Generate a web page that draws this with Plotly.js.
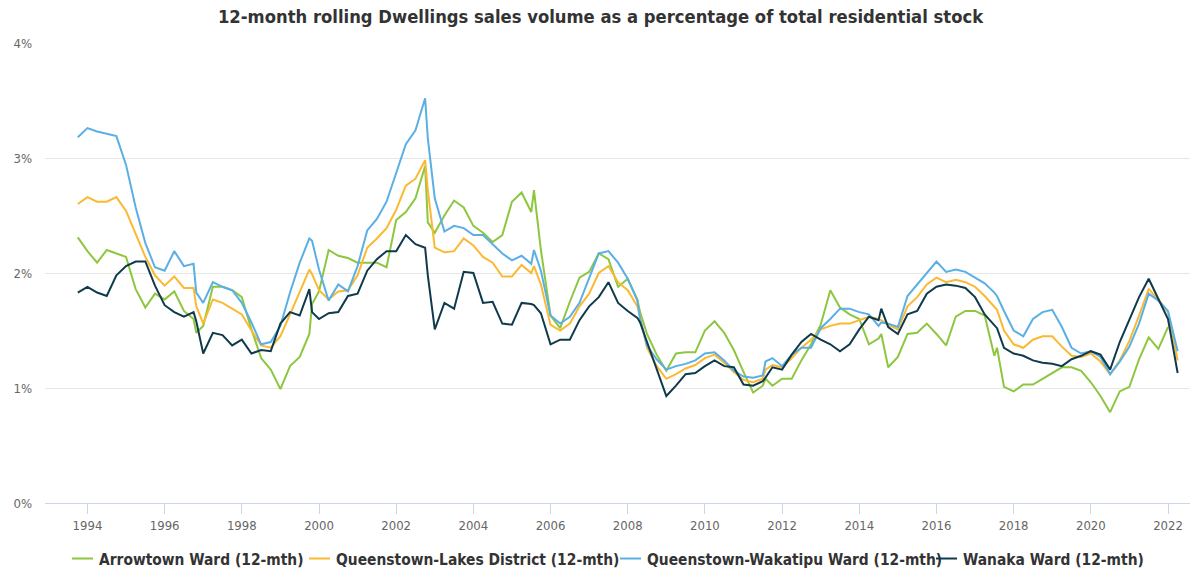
<!DOCTYPE html>
<html><head><meta charset="utf-8">
<script src="https://cdn.plot.ly/plotly-3.0.1.min.js"></script>
<style>html,body{margin:0;padding:0;background:#fff}#chart{width:1193px;height:569px}</style>
</head><body><div id="chart"></div>
<script>
// ---- data ----
const startYear = 1993.75;          // first quarter (Sep 1993)
const nQuarters = 115;
const revalQuarters = [12,24,36,47,58,71,83,95]; // quarters with a second reading
const tickYears = [1994,1996,1998,2000,2002,2004,2006,2008,2010,2012,2014,2016,2018,2020,2022];
const seriesNames = ['Arrowtown Ward (12-mth)','Queenstown-Lakes District (12-mth)','Queenstown-Wakatipu Ward (12-mth)','Wanaka Ward (12-mth)'];

const arrowtown = [2.31,
 2.19,2.09,2.20,2.17, 2.14,1.86,1.70,1.82, 1.77,1.84,1.67,1.60,1.48,
 1.54,1.88,1.88,1.85, 1.79,1.51,1.26,1.16, 0.99,1.19,1.27,1.47,1.73,
 1.84,2.20,2.15,2.13, 2.09,2.09,2.09,2.05, 2.46,2.53,2.65,2.93,2.44,
 2.35,2.50,2.63,2.57, 2.41,2.35,2.27,2.33, 2.62,2.70,2.53,2.72,2.20,
 1.63,1.52,1.75,1.96, 2.01,2.17,2.12,1.88, 1.95,1.77,1.66,1.47,1.29,
 1.15,1.30,1.31,1.31, 1.50,1.58,1.48,1.33, 1.14,0.96,1.02,1.08,1.02,
 1.08,1.08,1.24,1.38, 1.55,1.85,1.70,1.64, 1.60,1.38,1.43,1.47,1.18,
 1.27,1.47,1.48,1.56, 1.47,1.37,1.62,1.67, 1.67,1.63,1.28,1.35,1.01,
 0.97,1.03,1.03,1.08, 1.13,1.18,1.18,1.15, 1.05,0.93,0.79,0.97,
 1.01,1.25,1.44,1.34, 1.53,null];

const queenstownLakes = [2.60,
 2.66,2.62,2.62,2.66, 2.54,2.34,2.14,1.98, 1.89,1.97,1.87,1.87,1.71,
 1.56,1.77,1.74,1.69, 1.64,1.50,1.37,1.35, 1.45,1.64,1.83,2.03,1.99,
 1.85,1.77,1.84,1.85, 1.98,2.22,2.30,2.39, 2.55,2.76,2.82,2.98,2.72,
 2.22,2.18,2.19,2.30, 2.24,2.14,2.09,1.97, 1.97,2.07,2.00,2.06,1.90,
 1.55,1.50,1.56,1.71, 1.82,2.00,2.06,1.92, 1.85,1.71,1.62,1.35,1.19,
 1.08,1.12,1.17,1.20, 1.26,1.29,1.22,1.14, 1.07,1.05,1.08,1.16,1.20,
 1.18,1.26,1.35,1.42, 1.51,1.54,1.56,1.56, 1.59,1.62,1.60,1.59,1.55,
 1.51,1.71,1.79,1.90, 1.96,1.92,1.94,1.92, 1.88,1.80,1.70,1.68,1.50,
 1.38,1.35,1.42,1.45, 1.45,1.36,1.28,1.27, 1.30,1.23,1.12,1.24,
 1.41,1.63,1.86,1.77, 1.66,1.24];

const wakatipu = [3.18,
 3.26,3.23,3.21,3.19, 2.94,2.57,2.26,2.05, 2.02,2.19,2.06,2.08,1.83,
 1.74,1.92,1.88,1.85, 1.74,1.57,1.38,1.40, 1.54,1.83,2.09,2.30,2.28,
 2.03,1.76,1.90,1.84, 2.06,2.37,2.47,2.62, 2.87,3.12,3.24,3.52,3.17,
 2.65,2.36,2.41,2.39, 2.33,2.33,2.25,2.17, 2.11,2.15,2.08,2.20,2.02,
 1.63,1.56,1.62,1.74, 1.95,2.17,2.19,2.09, 1.95,1.76,1.60,1.37,1.25,
 1.16,1.19,1.21,1.24, 1.30,1.31,1.24,1.15, 1.10,1.09,1.11,1.23,1.26,
 1.19,1.29,1.35,1.35, 1.52,1.60,1.69,1.69, 1.66,1.64,1.54,1.57,1.56,
 1.53,1.80,1.90,2.01, 2.10,2.01,2.03,2.01, 1.96,1.91,1.83,1.80,1.67,
 1.50,1.45,1.60,1.66, 1.68,1.53,1.35,1.30, 1.32,1.27,1.12,1.23,
 1.36,1.56,1.82,1.76, 1.67,1.32];

const wanaka = [1.83,
 1.88,1.83,1.80,1.98, 2.06,2.10,2.10,1.89, 1.72,1.66,1.62,1.66,1.58,
 1.30,1.48,1.46,1.37, 1.42,1.30,1.33,1.32, 1.56,1.66,1.63,1.86,1.66,
 1.60,1.65,1.66,1.80, 1.82,2.02,2.12,2.19, 2.19,2.33,2.25,2.22,1.98,
 1.51,1.74,1.69,2.01, 2.00,1.74,1.75,1.56, 1.55,1.74,1.73,1.72,1.65,
 1.38,1.42,1.42,1.59, 1.71,1.79,1.92,1.74, 1.67,1.61,1.57,1.40,1.16,
 0.93,1.02,1.12,1.13, 1.19,1.24,1.19,1.18, 1.03,1.02,1.06,1.09,1.18,
 1.16,1.29,1.40,1.47, 1.42,1.38,1.32,1.38, 1.51,1.62,1.59,1.69,1.53,
 1.47,1.64,1.67,1.82, 1.88,1.90,1.89,1.87, 1.79,1.64,1.55,1.52,1.35,
 1.30,1.28,1.24,1.22, 1.21,1.19,1.25,1.28, 1.32,1.29,1.16,1.40,
 1.60,1.79,1.95,1.77, 1.60,1.13];

const colors = ['#8dc63f','#fbb931','#5aafe5','#0f3a4c'];

// ---- period axis (quarters, with a second reading at revaluation quarters) ----
const periods = [];
for (let i = 0; i < nQuarters; i++) {
  const t = startYear + 0.25 * i;
  periods.push(t);
  if (revalQuarters.includes(i)) periods.push(t + 0.07);
}

const FONT = '"DejaVu Sans Condensed", "DejaVu Sans", sans-serif';
const series = [arrowtown, queenstownLakes, wakatipu, wanaka];
const traces = series.map((ys, k) => ({
  type: 'scatter', mode: 'lines', x: periods, y: ys, name: seriesNames[k],
  line: {color: colors[k], width: 2}, hoverinfo: 'skip', connectgaps: false
}));

const layout = {
  width: 1193, height: 569,
  margin: {l: 45, r: 3, t: 43, b: 66},
  paper_bgcolor: '#ffffff', plot_bgcolor: '#ffffff',
  font: {family: FONT, color: '#666666'},
  title: {text: '12-month rolling Dwellings sales volume as a percentage of total residential stock',
    font: {family: FONT, size: 18.25, color: '#333333', weight: 'bold'},
    xref: 'container', x: 600.5/1193, xanchor: 'center', yref: 'container', y: 1 - 17/569, yanchor: 'middle'},
  xaxis: {range: [1992.9, 2022.57], tickvals: tickYears, ticktext: tickYears.map(String),
    ticks: 'outside', ticklen: 10, tickcolor: '#ccd6eb', showgrid: false, showline: true,
    linecolor: '#ccd6eb', linewidth: 1, zeroline: false, tickfont: {family: FONT, size: 13, color: '#666666'}},
  yaxis: {range: [0, 4], tickvals: [0,1,2,3,4], ticktext: ['0%','1%','2%','3%','4%'],
    showgrid: true, gridcolor: '#e6e6e6', gridwidth: 1, zeroline: false, ticks: '', showline: false,
    ticklabelstandoff: 12, tickfont: {family: FONT, size: 13, color: '#666666'}},
  legend: {orientation: 'h', xref: 'container', x: 609/1193, xanchor: 'center',
    yref: 'container', y: 1 - 559/569, yanchor: 'middle',
    font: {family: FONT, size: 15.4, color: '#333333', weight: 'bold'}},
  showlegend: true
};

// legend layout (text start of each entry, px) and short line symbols as in the reference
const legendTextStarts = [99, 336, 647, 963];

Plotly.newPlot('chart', traces, layout, {displayModeBar: false, staticPlot: true}).then(gd => {
  const items = gd.querySelectorAll('.legend .traces');
  items.forEach((g, k) => {
    const line = g.querySelector('.legendlines path');
    if (line) line.setAttribute('d', 'M13,0h21');
    const txt = g.querySelector('.legendtext');
    if (!txt || legendTextStarts[k] === undefined) return;
    const left = txt.getBoundingClientRect().left;
    const m = /translate\(\s*([-\d.]+)[ ,]+([-\d.]+)\s*\)/.exec(g.getAttribute('transform') || '');
    if (!m) return;
    const nx = parseFloat(m[1]) + (legendTextStarts[k] - left);
    g.setAttribute('transform', `translate(${nx},${m[2]})`);
  });
});
</script></body></html>
